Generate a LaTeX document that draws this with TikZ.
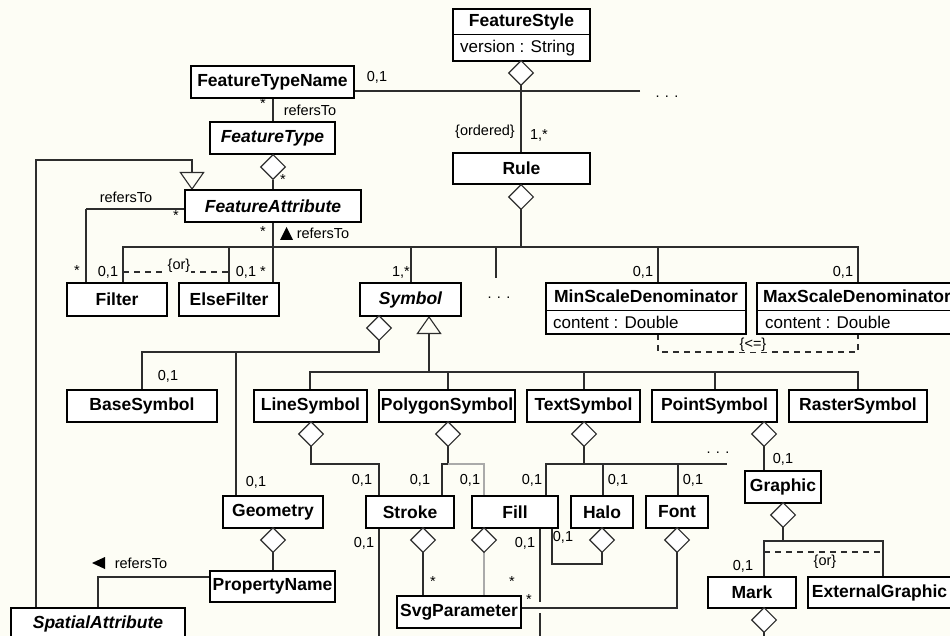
\documentclass[tikz,border=0pt]{standalone}
\usepackage{fontspec}
\setmainfont{Liberation Sans}
\usetikzlibrary{arrows.meta,shapes.geometric}
\definecolor{bgc}{RGB}{253,253,245}
\definecolor{linec}{RGB}{45,45,45}
\definecolor{lightc}{RGB}{170,170,170}
\newcommand\umlbox[7]{\node[cls,#7,minimum width={(#4-#2)*1pt},minimum height={(#5-#3)*1pt}] (#1) at ({(#2+#4)/2},{-(#3+#5)/2}) {#6};}
\begin{document}
\begin{tikzpicture}[x=1pt,y=1pt,
  cls/.style={draw=black,line width=1.8pt,fill=white,inner sep=0pt,text=black,font=\bfseries\fontsize{17.5}{20}\selectfont},
  clsname/.style={inner sep=0pt,text=black,font=\bfseries\fontsize{17.5}{20}\selectfont},
  attr/.style={inner sep=0pt,text=black,font=\fontsize{17}{20}\selectfont},
  agg/.style={diamond,draw=linec,line width=1.1pt,fill=white,inner sep=0pt,minimum width=25pt,minimum height=25pt},
  conn/.style={draw=linec,line width=1.1pt},
  light/.style={draw=lightc,line width=1.1pt},
  dashc/.style={draw=linec,line width=1.1pt,dash pattern=on 6pt off 5pt},
  gen/.style={conn,-{Triangle[open,length=18pt,width=25pt,line width=1.1pt]}},
  lbl/.style={inner sep=0.5pt,text=black,font=\fontsize{14.5}{16}\selectfont},
]
\path[use as bounding box] (0,0) rectangle (950,-636);
\fill[bgc] (0,0) rectangle (950,-636);
\clip (0,0) rectangle (950,-636);

% ---------- coordinates for bends and free ends
\coordinate (ftnEnd) at (640,-91);
\coordinate (genBend) at (36,-160);
\coordinate (faBend) at (86,-209);
\coordinate (rbus) at (521,-247);
\coordinate (rdots) at (496,-278);
\coordinate (sbus) at (379,-352);
\coordinate (gbus) at (429,-372);
\coordinate (lbend) at (379,-464);
\coordinate (pbus) at (448,-464);
\coordinate (tbus) at (584,-464);
\coordinate (tbusR) at (727,-464);
\coordinate (grbus) at (783,-541);
\coordinate (hbend) at (602,-564);
\coordinate (fbend) at (677,-608);
\coordinate (pbend) at (98,-577);
\coordinate (strokeEnd) at (379,-640);
\coordinate (fillEnd) at (540,-640);
\coordinate (fillGapA) at (540,-602);
\coordinate (fillGapB) at (540,-613);
\coordinate (markEnd) at (764,-640);

% ---------- connectors (drawn first, boxes on top)
\draw[conn] (ftnEnd) -- (354,-91);
\draw[conn] (rbus) -- (rbus |- 0,-60);
\draw[gen] (36,-608) -- (genBend) -| (192,-190);
\draw[conn] (faBend) -- (185,-209);
\draw[conn] (faBend) -- (86,-283);
\draw[conn] (273,-98) -- (273,-122);
\draw[conn] (273,-180) -- (273,-190);
\draw[conn] (273,-222) -- (273,-283);
\draw[conn] (rbus) -- (521,-210);
\draw[conn] (123,-283) |- (rbus);
\draw[conn] (858,-283) |- (rbus);
\draw[conn] (229,-283) -- (229,-247);
\draw[conn] (411,-283) -- (411,-247);
\draw[conn] (658,-283) -- (658,-247);
\draw[conn] (rdots) -- (rdots |- rbus);
\draw[dashc] (123,-272) -- (229,-272);
\draw[dashc] (658,-334) |- (858,-352) -- (858,-334);
\draw[conn] (379,-340) -- (sbus) -| (142,-390);
\draw[conn] (236,-496) -- (236,-352);
\draw[gen] (gbus) -- (429,-316);
\draw[conn] (310,-390) |- (gbus) -| (858,-390);
\draw[conn] (448,-390) -- (448,-372);
\draw[conn] (584,-390) -- (584,-372);
\draw[conn] (715,-390) -- (715,-372);
\draw[conn] (311,-446) |- (lbend) -- (379,-496);
\draw[conn] (pbus) -- (448,-446);
\draw[conn] (pbus) -| (442,-496);
\draw[light] (pbus) -| (484,-496);
\draw[conn] (tbus) -- (584,-446);
\draw[conn] (546,-496) |- (tbusR);
\draw[conn] (603,-496) -- (603,-464);
\draw[conn] (678,-496) -- (678,-464);
\draw[conn] (764,-446) -- (764,-471);
\draw[conn] (grbus) -- (783,-527);
\draw[conn] (764,-577) |- (grbus) -| (883,-577);
\draw[dashc] (764,-552) -- (883,-552);
\draw[conn] (markEnd) -- (764,-632);
\draw[conn] (273,-552) -- (273,-571);
\draw[conn] (210,-577) -- (pbend) -- (98,-608);
\draw[conn] (379,-528) -- (strokeEnd);
\draw[conn] (423,-552) -- (423,-596);
\draw[light] (484,-552) -- (484,-596);
\draw[conn] (540,-528) -- (fillGapA);
\draw[conn] (fillGapB) -- (fillEnd);
\draw[conn] (552,-528) |- (hbend) -- (602,-552);
\draw[conn] (677,-552) -- (fbend) -- (521,-608);

% ---------- classes
\node[cls,minimum width=137pt,minimum height=52pt] (fs) at (521.5,-35) {};
\draw[line width=1pt] (fs.west) -- (fs.east);
\node[clsname] (fsname) at (521.5,-22) {FeatureStyle};
\node[attr,anchor=west] (fsattr) at (460,-48) {version : String};

\umlbox{ftn}{191}{66}{354}{98}{FeatureTypeName}{}
\umlbox{ft}{210}{122}{335}{154}{\itshape FeatureType}{}
\umlbox{fa}{185}{190}{361}{222}{\itshape FeatureAttribute}{}
\umlbox{rule}{453}{153}{590}{184}{Rule}{}
\umlbox{filter}{67}{283}{167}{316}{Filter}{}
\umlbox{elsef}{179}{283}{279}{316}{ElseFilter}{}
\umlbox{symbol}{360}{283}{461}{316}{\itshape Symbol}{}

\node[cls,minimum width=200pt,minimum height=51pt] (minsc) at (646,-308.5) {};
\draw[line width=1pt] ([yshift=-1.5pt]minsc.west) -- ([yshift=-1.5pt]minsc.east);
\node[clsname] (minscname) at (646,-296.5) {MinScaleDenominator};
\node[attr,anchor=west] (minscattr) at (553,-322) {content : Double};

\node[cls,minimum width=200pt,minimum height=51pt] (maxsc) at (857,-308.5) {};
\draw[line width=1pt] ([yshift=-1.5pt]maxsc.west) -- ([yshift=-1.5pt]maxsc.east);
\node[clsname] (maxscname) at (857,-296.5) {MaxScaleDenominator};
\node[attr,anchor=west] (maxscattr) at (765,-322) {content : Double};

\umlbox{basesym}{67}{390}{217}{422}{BaseSymbol}{}
\umlbox{linesym}{254}{390}{367}{422}{LineSymbol}{}
\umlbox{polysym}{379}{390}{515}{422}{PolygonSymbol}{}
\umlbox{textsym}{527}{390}{640}{422}{TextSymbol}{}
\umlbox{pointsym}{652}{390}{777}{422}{PointSymbol}{}
\umlbox{rastersym}{789}{390}{927}{422}{RasterSymbol}{}
\umlbox{geom}{223}{496}{323}{528}{Geometry}{}
\umlbox{stroke}{366}{496}{454}{528}{Stroke}{}
\umlbox{fillc}{472}{496}{558}{528}{Fill}{}
\umlbox{halo}{571}{496}{633}{528}{Halo}{}
\umlbox{fontc}{646}{496}{708}{528}{Font}{}
\umlbox{graphic}{745}{471}{821}{503}{Graphic}{}
\umlbox{propname}{210}{571}{335}{602}{PropertyName}{}
\umlbox{svg}{397}{596}{521}{628}{SvgParameter}{}
\umlbox{mark}{708}{577}{796}{608}{Mark}{}
\umlbox{extg}{808}{577}{951}{608}{ExternalGraphic}{}
\umlbox{spat}{11}{608}{185}{640}{\itshape SpatialAttribute}{}

% ---------- aggregation diamonds
\node[agg] (dfs) at (521,-73) {};
\node[agg] (dft) at (273,-167) {};
\node[agg] (drule) at (521,-197) {};
\node[agg] (dsym) at (379,-328) {};
\node[agg] (dline) at (311,-434) {};
\node[agg] (dpoly) at (448,-434) {};
\node[agg] (dtext) at (584,-434) {};
\node[agg] (dpoint) at (764,-434) {};
\node[agg] (dgeom) at (273,-540) {};
\node[agg] (dstroke) at (423,-540) {};
\node[agg] (dfill) at (484,-540) {};
\node[agg] (dhalo) at (602,-540) {};
\node[agg] (dfont) at (677,-540) {};
\node[agg] (dgraphic) at (783,-515) {};
\node[agg] (dmark) at (764,-620) {};

% ---------- direction triangles
\fill[black] (280,-240) -- (293,-240) -- (286.5,-227) -- cycle;
\fill[black] (92,-563) -- (105,-557) -- (105,-569) -- cycle;

% ---------- labels
\node[lbl] (l1) at (377,-77) {0,1};
\node[lbl] (l2) at (667,-97) {. . .};
\node[lbl] (l3) at (263,-104) {*};
\node[lbl] (l4) at (310,-110) {refersTo};
\node[lbl] (l5) at (283,-180) {*};
\node[lbl] (l6) at (126,-197) {refersTo};
\node[lbl] (l7) at (176,-216) {*};
\node[lbl] (l8) at (77,-271) {*};
\node[lbl] (l9) at (108,-272) {0,1};
\node[lbl,fill=bgc] (l10) at (179,-266) {\{or\}};
\node[lbl] (l11) at (246,-272) {0,1};
\node[lbl] (l12) at (263,-272) {*};
\node[lbl] (l13) at (263,-232) {*};
\node[lbl] (l14) at (323,-233) {refersTo};
\node[lbl] (l15) at (401,-272) {1,*};
\node[lbl] (l16) at (499,-298) {. . .};
\node[lbl] (l17) at (643,-272) {0,1};
\node[lbl] (l18) at (843,-272) {0,1};
\node[lbl,fill=bgc] (l19) at (753,-345) {\{<=\}};
\node[lbl] (l20) at (485,-132) {\{ordered\}};
\node[lbl] (l21) at (539,-135) {1,*};
\node[lbl] (l22) at (168,-376) {0,1};
\node[lbl] (l23) at (256,-482) {0,1};
\node[lbl] (l24) at (362,-480) {0,1};
\node[lbl] (l25) at (420,-480) {0,1};
\node[lbl] (l26) at (470,-480) {0,1};
\node[lbl] (l27) at (532,-480) {0,1};
\node[lbl] (l28) at (618,-480) {0,1};
\node[lbl] (l29) at (693,-480) {0,1};
\node[lbl] (l30) at (718,-453) {. . .};
\node[lbl] (l31) at (783,-459) {0,1};
\node[lbl] (l32) at (743,-566) {0,1};
\node[lbl] (l33) at (825,-562) {\{or\}};
\node[lbl] (l34) at (364,-543) {0,1};
\node[lbl] (l35) at (525,-543) {0,1};
\node[lbl] (l36) at (563,-537) {0,1};
\node[lbl] (l37) at (433,-582) {*};
\node[lbl] (l38) at (512,-582) {*};
\node[lbl] (l39) at (529,-600) {*};
\node[lbl] (l40) at (141,-563) {refersTo};
\end{tikzpicture}
\end{document}
